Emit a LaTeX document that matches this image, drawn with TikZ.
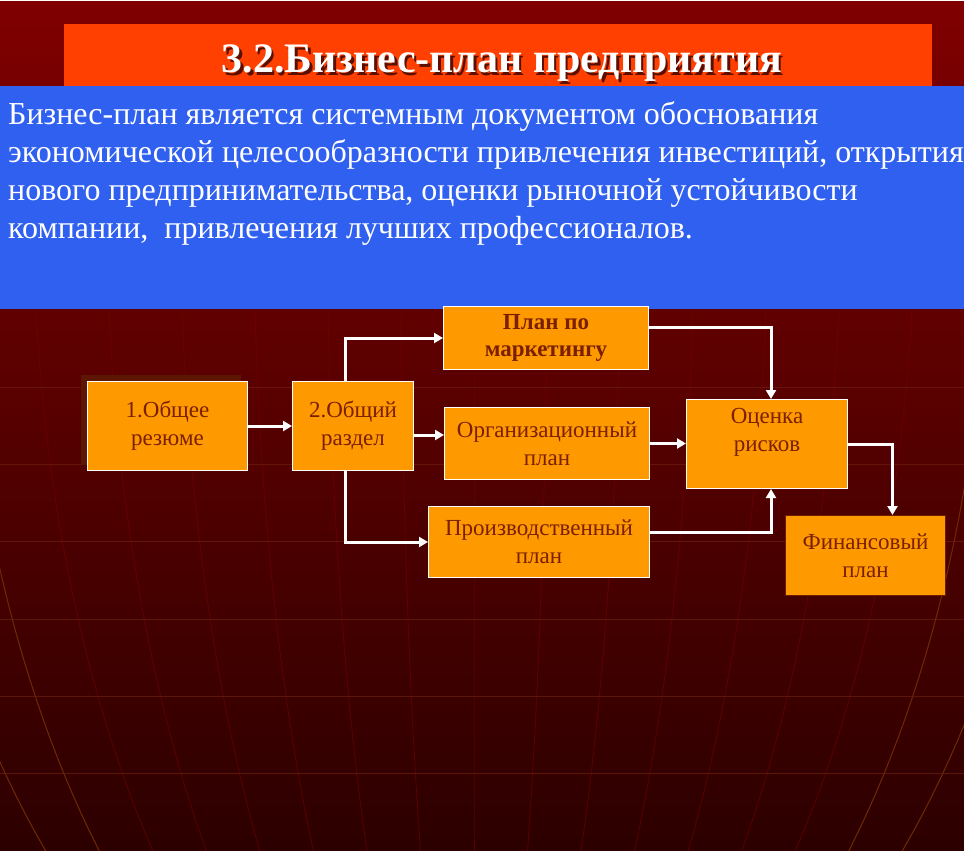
\documentclass[tikz,border=0pt]{standalone}
\usepackage{fontspec}
\setmainfont{Liberation Serif}
\usetikzlibrary{arrows.meta,calc}
\definecolor{bgtop}{RGB}{128,0,0}
\definecolor{bgbot}{RGB}{44,0,0}
\definecolor{titlebar}{RGB}{255,64,0}
\definecolor{bluebox}{RGB}{48,96,240}
\definecolor{boxfill}{RGB}{255,153,0}
\definecolor{boxtext}{RGB}{122,32,0}
\definecolor{gridred}{RGB}{120,0,0}
\definecolor{gridbrown}{RGB}{110,42,5}
\definecolor{hline}{RGB}{105,32,15}
\definecolor{shadowbrown}{RGB}{92,22,2}
\definecolor{finborder}{RGB}{110,30,0}
\definecolor{titleshadow}{RGB}{90,15,0}
\newcommand{\titletext}{3.2.Бизнес-план предприятия}
\begin{document}
\begin{tikzpicture}[x=1pt,y=-1pt,
  stagebox/.style={draw=white, line width=1pt, fill=boxfill, text=boxtext,
    align=center, inner sep=0pt, anchor=north west,
    font=\fontsize{23}{28}\selectfont},
  boxlabel/.style={text=boxtext, align=center, inner sep=0pt,
    font=\fontsize{23}{28}\selectfont},
  flow/.style={draw=white, line width=3pt, -{Triangle[width=10pt,length=9pt]}},
  bodytext/.style={text=white, anchor=base west, inner sep=0pt,
    font=\fontsize{32}{38}\selectfont},
  meridian/.style={draw=gridred, line width=0.8pt, opacity=0.6},
  outermeridian/.style={draw=gridbrown, line width=1pt},
  parallel/.style={draw=hline, line width=0.8pt, opacity=0.7}
]
\useasboundingbox (0,0) rectangle (964,851);
% background
\shade[top color=bgtop, bottom color=bgbot] (0,0) rectangle (964,851);
\fill[white] (0,0) rectangle (964,1.5);
% grid of curved lines
\foreach \k in {-6,...,6}{
  \draw[meridian] plot[domain=305:851, samples=30, variable=\t]
    ({474+\k*73.5*sqrt(1-((\t-200)/950)^2)},{\t});
}
\foreach \k in {-8,-7,7,8}{
  \draw[outermeridian] plot[domain=305:851, samples=30, variable=\t]
    ({474+\k*73.5*sqrt(1-((\t-200)/950)^2)},{\t});
}
\foreach \yy in {387,464,541,619,696,773}{
  \draw[parallel] (0,\yy) -- (964,\yy);
}
% title bar
\fill[titlebar] (64,24) rectangle (932,86);
\node[text=white, anchor=base, inner sep=0pt,
  font=\fontsize{42}{48}\selectfont\bfseries] (title) at (502,73)
  {\makebox[0pt][l]{\hspace{2.5pt}\raisebox{-2.5pt}{\textcolor{titleshadow}{\titletext}}}\titletext};
% blue text panel
\fill[bluebox] (0,86) rectangle (964,309);
\begin{scope}
\clip (0,86) rectangle (964,309);
\node[bodytext] (l1) at (8,124) {Бизнес-план является системным документом обоснования};
\node[bodytext] (l2) at (8,162) {экономической целесообразности привлечения инвестиций, открытия};
\node[bodytext] (l3) at (8,200) {нового предпринимательства, оценки рыночной устойчивости};
\node[bodytext] (l4) at (8,238) {компании,\ \ привлечения лучших профессионалов.};
\end{scope}
% shadow of first box
\fill[shadowbrown] (81,375) rectangle (241,465);
% boxes
\node[stagebox, minimum width=160pt, minimum height=89pt] (b1) at (87,381) {1.Общее\\резюме};
\node[stagebox, minimum width=121pt, minimum height=89pt] (b2) at (292,381) {2.Общий\\раздел};
\node[stagebox, minimum width=205pt, minimum height=63pt, font=\fontsize{23}{27}\selectfont\bfseries] (mk) at (443,306) {План по\\маркетингу};
\node[stagebox, minimum width=205pt, minimum height=72pt] (org) at (444,407) {Организационный\\план};
\node[stagebox, minimum width=221pt, minimum height=71pt] (pr) at (428,506) {Производственный\\план};
\node[stagebox, minimum width=161pt, minimum height=89pt] (rk) at (686,399) {};
\node[boxlabel] (rklabel) at ([yshift=12pt]rk.center) {Оценка\\рисков};
\node[stagebox, draw=finborder, minimum width=160pt, minimum height=80pt] (fin) at (785,515) {Финансовый\\план};
% connectors
\draw[flow] (b1.east) -- (b2.west);
\draw[flow] ([yshift=-9pt]b2.east) -- ([yshift=-9pt]b2.east -| org.west);
\draw[flow] ([xshift=-7.5pt]b2.north) |- (mk.west);
\draw[flow] ([xshift=-7.5pt]b2.south) |- (pr.west);
\draw[flow] ([yshift=10.5pt]mk.east) -| ([xshift=4pt]rk.north);
\draw[flow] (org.east) -- (org.east -| rk.west);
\draw[flow] ([yshift=9.5pt]pr.east) -| ([xshift=4pt]rk.south);
\draw[flow] (rk.east) -| ([xshift=27pt]fin.north);
\end{tikzpicture}
\end{document}
